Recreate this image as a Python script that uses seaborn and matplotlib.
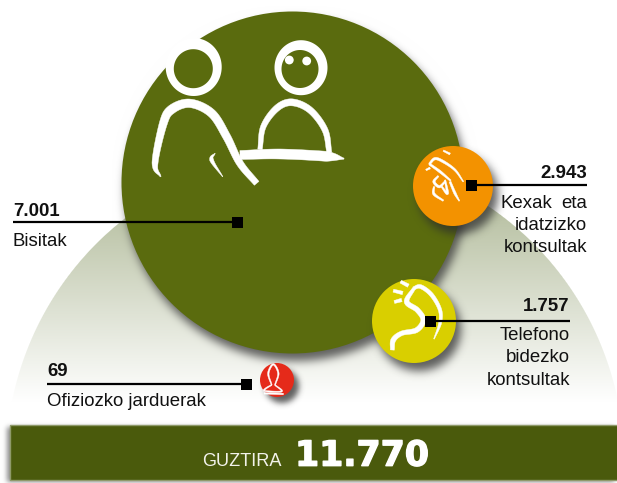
import numpy as np
import pandas as pd
import matplotlib
matplotlib.use("Agg")
import matplotlib.pyplot as plt
import matplotlib.patheffects as pe
from matplotlib.patches import Polygon, Rectangle
import seaborn as sns

# ---- data ----
categories = ["Bisitak", "Kexak eta idatzizko kontsultak", "Telefono bidezko kontsultak", "Ofiziozko jarduerak"]
values = [7001, 2943, 1757, 69]
total = 11770
total_label = "GUZTIRA"

# ---- layout (pixels of the 617x483 picture) ----
W, H = 617, 483
centres_x = [292, 453, 414, 277]
centres_y = [182, 186, 321, 380]
radii = [171, 40, 42, 17]
colours = ["#5a6b0e", "#f39200", "#d9cf00", "#e52a1a"]
OLIVE_BAR = "#4a5a0c"


def fmt(v):
    return f"{v:,}".replace(",", ".")


sns.set_theme(style="white")
plt.rcParams["font.family"] = ["Liberation Sans", "DejaVu Sans"]

fig = plt.figure(figsize=(W / 100, H / 100), dpi=100)
ax = fig.add_axes([0, 0, 1, 1])
yy, xx = np.mgrid[0:H, 0:W] + 0.5


def blur(a, sigma):
    r = int(3 * sigma)
    k = np.exp(-0.5 * (np.arange(-r, r + 1) / sigma) ** 2)
    k /= k.sum()
    p = np.pad(a, r, mode="edge")
    p = np.apply_along_axis(lambda m: np.convolve(m, k, mode="same"), 0, p)
    p = np.apply_along_axis(lambda m: np.convolve(m, k, mode="same"), 1, p)
    return p[r:-r, r:-r]


def disc(cx, cy, r):
    return np.clip(r + 0.5 - np.hypot(xx - cx, yy - cy), 0, 1)


def shadow(mask, dx, dy, sigma):
    return blur(np.roll(np.roll(mask, dy, axis=0), dx, axis=1), sigma)


def over(img, colour, alpha):
    return img * (1 - alpha[..., None]) + np.array(colour) * alpha[..., None]


# hill with vertical gradient
bg = np.ones((H, W, 3))
t = np.clip((402 - yy) / 200, 0, 1)
top_c = np.array([182, 191, 160]) / 255
hill_col = 1 + (top_c - 1) * t[..., None]
hill = disc(315, 462, 309) * (yy < 415)
bg = bg * (1 - hill[..., None]) + hill_col * hill[..., None]
# big circle's shadow, bar's shadow
bg = over(bg, (0.2, 0.2, 0.2), 0.75 * shadow(disc(centres_x[0], centres_y[0], radii[0]), 4, 8, 4.5))
bar_mask = ((xx > 10) & (yy > 425) & (yy < 480)).astype(float)
bg = over(bg, (0.25, 0.25, 0.25), 0.6 * shadow(bar_mask, -3, 2, 2.5))
ax.imshow(bg, extent=(0, W, H, 0), aspect="auto", zorder=0, interpolation="nearest")

# shadows of the small circles fall on the big one
sh = np.zeros((H, W))
for i in (1, 2, 3):
    off = (5, 8, 4.5) if i < 3 else (5, 6, 3)
    sh = np.maximum(sh, shadow(disc(centres_x[i], centres_y[i], radii[i]), off[0], off[1], off[2]))
overlay = np.zeros((H, W, 4))
overlay[..., :3] = 0.18
overlay[..., 3] = 0.75 * sh
ax.imshow(overlay, extent=(0, W, H, 0), aspect="auto", zorder=3, interpolation="nearest")

df = pd.DataFrame({"categoria": categories, "balioa": values, "x": centres_x, "y": centres_y})
area = {c: (2 * r * 0.72) ** 2 for c, r in zip(categories, radii)}
hues = dict(zip(categories, colours))
sns.scatterplot(data=df.iloc[:1], x="x", y="y", hue="categoria", palette=hues, size="categoria",
                sizes=area, legend=False, linewidth=0, ax=ax, zorder=2)
sns.scatterplot(data=df.iloc[1:], x="x", y="y", hue="categoria", palette=hues, size="categoria",
                sizes=area, legend=False, linewidth=0, ax=ax, zorder=4)

ax.set_xlim(0, W)
ax.set_ylim(H, 0)
ax.set_axis_off()


# ---- hand-drawn pictograms ----
def stroke(pts, widths, z=5, color="white", n=120):
    pts = np.array(pts, float)
    widths = np.array(widths, float)
    s = np.r_[0, np.cumsum(np.hypot(*np.diff(pts, axis=0).T))]
    u = np.linspace(0, s[-1], n)
    if len(pts) > 2:
        P = np.vstack([2 * pts[0] - pts[1], pts, 2 * pts[-1] - pts[-2]])
        out = []
        for q in u:
            i = min(np.searchsorted(s, q, side="right") - 1, len(pts) - 2)
            f = (q - s[i]) / max(s[i + 1] - s[i], 1e-6)
            a, b, c, d = P[i], P[i + 1], P[i + 2], P[i + 3]
            out.append(0.5 * (2 * b + (c - a) * f + (2 * a - 5 * b + 4 * c - d) * f ** 2 + (3 * b - a - 3 * c + d) * f ** 3))
        c_ = np.array(out)
    else:
        c_ = np.c_[np.interp(u, s, pts[:, 0]), np.interp(u, s, pts[:, 1])]
    w = np.interp(u, s, widths) / 2
    tan = np.gradient(c_, axis=0)
    nrm = np.c_[-tan[:, 1], tan[:, 0]] / np.maximum(np.hypot(*tan.T), 1e-6)[:, None]
    ax.add_patch(Polygon(np.vstack([c_ + nrm * w[:, None], (c_ - nrm * w[:, None])[::-1]]),
                         closed=True, fc=color, ec=color, lw=0.3, zorder=z))


def ring(cx, cy, rx, ry, ix, iy, rx2, ry2):
    th = np.linspace(0, 2 * np.pi, 120)
    ax.add_patch(Polygon(np.c_[cx + rx * np.cos(th), cy + ry * np.sin(th)], fc="white", ec="none", zorder=2.5))
    ax.add_patch(Polygon(np.c_[ix + rx2 * np.cos(th), iy + ry2 * np.sin(th)], fc=colours[0], ec="none", zorder=2.6))


def Z1(p):
    return [(130 + a / 3, 20 + b / 3) for a, b in p]


def Z2(p):
    return [(360 + a / 3, 140 + b / 3) for a, b in p]


def Z3(p):
    return [(a / 3, 350 + b / 3) for a, b in p]


ring(193.7, 67, 28, 29, 193.3, 68.7, 19.5, 19.5)
ring(301, 67.7, 26.5, 27.5, 300, 69, 18.5, 19)
for ex, ey in [(289.3, 60), (306.7, 61)]:
    ax.add_patch(plt.Circle((ex, ey), 4.4, fc="white", ec="none", zorder=3))
stroke(Z1([(92, 470), (75, 430), (100, 310), (125, 268), (180, 250), (245, 280), (290, 350), (330, 430), (380, 490)]),
       [1, 6, 8, 9, 8.5, 8.5, 8, 7, 6], z=2.7)
stroke(Z1([(255, 400), (245, 420), (278, 470)]), [0.5, 4, 0.5], z=2.7)
stroke(Z1([(390, 388), (400, 320), (440, 265), (485, 247), (540, 270), (585, 330), (598, 398)]),
       [4.5, 5.5, 6.5, 7, 6.5, 6, 5], z=2.7)
stroke(Z1([(330, 405), (450, 402), (590, 409), (642, 416)]), [9, 10, 10, 1], z=2.7)

# hand (orange)
for pts, wd in [
    ([(208, 72), (225, 56), (250, 65), (285, 90), (310, 125)], [2, 2.5, 2.5, 2, 1]),
    ([(208, 72), (240, 95), (272, 122)], [2, 2.5, 1.5]),
    ([(250, 32), (270, 42)], [1.5, 2]),
    ([(198, 90), (210, 84)], [1.5, 2]),
    ([(235, 108), (222, 125), (238, 140), (255, 125)], [1.5, 2.5, 2.5, 1.5]),
    ([(222, 140), (222, 162), (250, 182)], [1.5, 2.5, 1.5]),
    ([(245, 140), (262, 160), (255, 120)], [1.5, 2.5, 1.5]),
    ([(270, 125), (285, 160), (298, 183)], [2, 2.5, 1]),
]:
    stroke(Z2(pts), wd, z=5)

# ear (yellow)
stroke(Z2([(160, 445), (182, 440), (215, 465), (240, 510), (240, 550), (222, 597)]), [3, 4, 4, 3.5, 3, 0.8], z=5)
stroke(Z2([(162, 445), (140, 485), (172, 510), (190, 540), (170, 570), (125, 580), (100, 600), (97, 630)]),
       [3, 5, 5, 5, 5, 4.5, 5, 4], z=5)
for pts in [[(122, 425), (145, 437)], [(100, 452), (128, 459)], [(103, 486), (125, 480)]]:
    stroke(Z2(pts), [3, 3.5], z=5)

# stamp (red)
stroke(Z3([(815, 105), (805, 70), (820, 43), (835, 70), (825, 105)]), [1, 1.5, 1.5, 1.5, 1], z=5)
stroke(Z3([(815, 105), (798, 115), (795, 123), (845, 124), (825, 105)]), [1, 1.3, 1.3, 1.3, 1], z=5)
stroke(Z3([(792, 130), (850, 132)]), [1.5, 1.5], z=5)

# ---- leaders and labels ----
BIG = dict(fontsize=13.4, fontweight="bold", color="#111111", zorder=7, va="baseline")
REG = dict(fontsize=13.4, color="#111111", zorder=7, va="baseline")


def leader(x0, x1, y, sq):
    ax.plot([x0, x1], [y, y], color="black", lw=1.6, solid_capstyle="butt", zorder=6)
    ax.add_patch(Rectangle((sq - 5.5, y - 5.5), 11, 11, fc="black", ec="none", zorder=6))


leader(13, 237, 222, 237)
ax.text(13, 216, fmt(values[0]), ha="left", **BIG)
ax.text(13, 246, "Bisitak", ha="left", **REG)

leader(472, 587, 185, 471)
ax.text(587, 178, fmt(values[1]), ha="right", **BIG)
ax.text(500, 208, "Kexak", ha="left", **REG)
ax.text(587, 208, "eta", ha="right", **REG)
ax.text(587, 230, "idatzizko", ha="right", **REG)
ax.text(587, 252, "kontsultak", ha="right", **REG)

leader(430, 570, 321, 430)
ax.text(570, 311, fmt(values[2]), ha="right", **BIG)
ax.text(570, 340, "Telefono", ha="right", **REG)
ax.text(570, 362, "bidezko", ha="right", **REG)
ax.text(570, 385, "kontsultak", ha="right", **REG)

leader(47, 246, 384, 246)
ax.text(47, 376, fmt(values[3]), ha="left", **BIG)
ax.text(47, 406.5, "Ofiziozko jarduerak", ha="left", **REG)

# ---- total bar ----
ax.add_patch(Rectangle((10, 425), W, 55, fc=OLIVE_BAR, ec="#8f9a6a", lw=1, zorder=5))
ax.text(202.5, 465.7, total_label, color="#f2f2ea", fontsize=13.1, ha="left", va="baseline", zorder=7)
ax.text(295, 465.7, fmt(total), color="white", fontsize=25, fontweight="bold",
        family="DejaVu Sans", ha="left", va="baseline", zorder=7,
        path_effects=[pe.withStroke(linewidth=1.0, foreground="white")])

fig.savefig("out.png", dpi=100)
